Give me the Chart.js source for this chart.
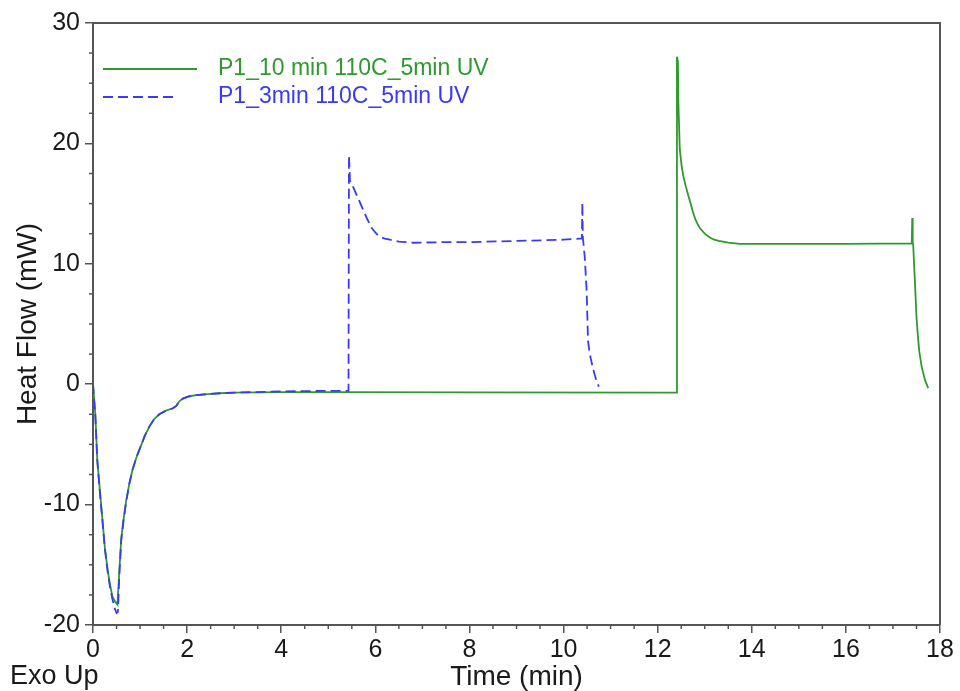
<!DOCTYPE html>
<html>
<head>
<meta charset="utf-8">
<script src="https://cdn.jsdelivr.net/npm/chart.js@4/dist/chart.umd.min.js"></script>
<style>
  body { margin: 0; background: #fff; }
  canvas { display: block; }
</style>
</head>
<body>
<canvas id="dscChart" width="960" height="691"></canvas>
<script>
// P1_10 min 110C_5min UV (solid green)
const timeGreen = [0, 0.05, 0.09, 0.15, 0.2, 0.25, 0.31, 0.36, 0.41, 0.46, 0.52, 0.56, 0.6, 0.65, 0.7, 0.77, 0.84, 0.93,
  1.02, 1.1, 1.2, 1.3, 1.41, 1.55, 1.7, 1.77, 1.84, 1.91, 2.05, 2.2, 2.5, 2.7, 3.0, 3.5, 4.0, 5.0, 8.0, 12.4,
  12.41, 12.43, 12.44, 12.47, 12.51, 12.55, 12.6, 12.65, 12.7, 12.75, 12.8, 12.85, 12.9, 13.0, 13.1, 13.2, 13.3,
  13.5, 13.75, 14.5, 16.0, 17.4,
  17.41, 17.42, 17.43, 17.47, 17.5, 17.53, 17.56, 17.61, 17.68, 17.75];
const heatGreen = [0, -2.5, -6.2, -9.0, -11.2, -13.5, -15.4, -16.6, -17.6, -18.0, -18.3, -15.5, -12.8, -11.2, -9.8, -8.3, -7.1, -6.0,
  -5.1, -4.3, -3.5, -2.9, -2.5, -2.2, -2.0, -1.8, -1.4, -1.2, -1.0, -0.9, -0.8, -0.75, -0.7, -0.68, -0.66, -0.66, -0.68, -0.7,
  27.2, 26.8, 23.4, 19.5, 18.1, 17.2, 16.4, 15.7, 15.0, 14.3, 13.7, 13.3, 12.95, 12.5, 12.2, 12.0, 11.9,
  11.75, 11.66, 11.65, 11.65, 11.7,
  13.8, 11.8, 11.6, 8.25, 5.6, 4.0, 2.7, 1.46, 0.36, -0.33];

// P1_3min 110C_5min UV (dashed blue)
const timeBlue = [0, 0.05, 0.09, 0.15, 0.2, 0.25, 0.31, 0.36, 0.41, 0.46, 0.5, 0.53, 0.56, 0.6, 0.65, 0.7, 0.77, 0.84, 0.93,
  1.02, 1.1, 1.2, 1.3, 1.41, 1.55, 1.7, 1.77, 1.84, 1.91, 2.05, 2.2, 2.5, 2.7, 3.0, 3.5, 4.0, 5.0, 5.43,
  5.44, 5.45, 5.46, 5.5, 5.56, 5.65, 5.74, 5.83, 5.92, 6.0, 6.09, 6.2, 6.31, 6.5, 6.8, 7.5, 8.0, 9.0, 10.0, 10.39,
  10.4, 10.41, 10.45, 10.49, 10.52, 10.55, 10.58, 10.62, 10.66, 10.7, 10.75];
const heatBlue = [0, -2.7, -6.3, -9.2, -11.3, -13.6, -15.5, -16.8, -17.8, -18.6, -19.0, -18.9, -15.8, -13.0, -11.3, -9.9, -8.3, -7.1, -6.0,
  -5.1, -4.3, -3.5, -2.9, -2.5, -2.2, -2.0, -1.8, -1.4, -1.2, -1.0, -0.9, -0.8, -0.75, -0.7, -0.65, -0.6, -0.55, -0.55,
  19.0, 18.0, 16.9, 16.6, 16.1, 15.3, 14.5, 13.7, 13.0, 12.6, 12.25, 12.1, 12.0, 11.85, 11.75, 11.8, 11.8, 11.9, 12.0, 12.1,
  15.1, 12.2, 10.6, 7.8, 3.6, 2.7, 2.1, 1.4, 0.8, 0.3, -0.2];

const xTicks = [0, 2, 4, 6, 8, 10, 12, 14, 16, 18];
const yTicks = [-20, -10, 0, 10, 20, 30];

const seriesLabels = ['P1_10 min 110C_5min UV', 'P1_3min 110C_5min UV'];
const green = '#2e9a2e';
const blue = '#3a3af5';
const axisColor = '#555555';

const toPoints = (xs, ys) => xs.map((x, i) => ({ x: x, y: ys[i] }));

// minor ticks, top/right frame, legend and "Exo Up"
const extras = {
  id: 'extras',
  afterDraw(chart) {
    const ctx = chart.ctx;
    const area = chart.chartArea;
    const xs = chart.scales.x;
    const ys = chart.scales.y;
    ctx.save();

    ctx.strokeStyle = axisColor;
    ctx.lineWidth = 1.5;
    for (let v = 0; v <= 18; v += 0.5) {
      if (v % 2 === 0) continue;
      const px = xs.getPixelForValue(v);
      ctx.beginPath();
      ctx.moveTo(px, area.bottom);
      ctx.lineTo(px, area.bottom + 4);
      ctx.stroke();
    }
    for (let v = -20; v <= 30; v += 2.5) {
      if (v % 10 === 0) continue;
      const py = ys.getPixelForValue(v);
      ctx.beginPath();
      ctx.moveTo(area.left - 4, py);
      ctx.lineTo(area.left, py);
      ctx.stroke();
    }

    ctx.lineWidth = 2;
    ctx.beginPath();
    ctx.moveTo(area.left, area.top);
    ctx.lineTo(area.right, area.top);
    ctx.lineTo(area.right, area.bottom);
    ctx.stroke();

    // legend
    const ds = chart.data.datasets;
    const rows = [ds[1], ds[0]];
    rows.forEach((d, i) => {
      const y = 69 + i * 28;
      ctx.strokeStyle = d.borderColor;
      ctx.lineWidth = 2;
      ctx.setLineDash(d.borderDash || []);
      ctx.beginPath();
      ctx.moveTo(103, y);
      ctx.lineTo(i === 0 ? 197 : 178, y);
      ctx.stroke();
      ctx.setLineDash([]);
      ctx.fillStyle = d.borderColor;
      ctx.font = '23px "Liberation Sans", Arial, sans-serif';
      ctx.textBaseline = 'middle';
      ctx.textAlign = 'left';
      ctx.fillText(d.label, 218, y);
    });

    ctx.fillStyle = '#1a1a1a';
    ctx.font = '27px "Liberation Sans", Arial, sans-serif';
    ctx.textBaseline = 'middle';
    ctx.fillText('Exo Up', 10, 677);
    ctx.restore();
  }
};

new Chart(document.getElementById('dscChart'), {
  type: 'line',
  data: {
    datasets: [
      {
        label: seriesLabels[1],
        data: toPoints(timeBlue, heatBlue),
        borderColor: blue,
        borderWidth: 1.8,
        borderDash: [10, 5],
        pointRadius: 0,
        tension: 0,
        order: 0
      },
      {
        label: seriesLabels[0],
        data: toPoints(timeGreen, heatGreen),
        borderColor: green,
        borderWidth: 1.8,
        pointRadius: 0,
        tension: 0,
        order: 1
      }
    ]
  },
  options: {
    responsive: false,
    animation: false,
    layout: { padding: { top: 23, right: 20, left: 0, bottom: 0 } },
    plugins: {
      legend: { display: false },
      tooltip: { enabled: false }
    },
    scales: {
      x: {
        type: 'linear',
        min: 0,
        max: 18,
        afterFit: (s) => { s.height = 66; },
        afterBuildTicks: (s) => { s.ticks = xTicks.map(v => ({ value: v })); },
        grid: { drawOnChartArea: false, drawTicks: true, tickLength: 8, color: axisColor, lineWidth: 1.5 },
        border: { display: true, color: axisColor, width: 2 },
        ticks: {
          autoSkip: false,
          maxRotation: 0,
          padding: 2,
          color: '#1a1a1a',
          font: { family: '"Liberation Sans", Arial, sans-serif', size: 25 }
        },
        title: {
          display: true,
          text: 'Time (min)',
          color: '#1a1a1a',
          padding: 0,
          font: { family: '"Liberation Sans", Arial, sans-serif', size: 28, lineHeight: 1 }
        }
      },
      y: {
        type: 'linear',
        min: -20,
        max: 30,
        afterFit: (s) => { s.width = 93; },
        afterBuildTicks: (s) => { s.ticks = yTicks.map(v => ({ value: v })); },
        grid: { drawOnChartArea: false, drawTicks: true, tickLength: 8, color: axisColor, lineWidth: 1.5 },
        border: { display: true, color: axisColor, width: 2 },
        ticks: {
          padding: 5,
          color: '#1a1a1a',
          font: { family: '"Liberation Sans", Arial, sans-serif', size: 25 }
        },
        title: {
          display: true,
          text: 'Heat Flow (mW)',
          color: '#1a1a1a',
          padding: { top: 14, bottom: 0 },
          font: { family: '"Liberation Sans", Arial, sans-serif', size: 28, lineHeight: 1 }
        }
      }
    }
  },
  plugins: [extras]
});
</script>
</body>
</html>
